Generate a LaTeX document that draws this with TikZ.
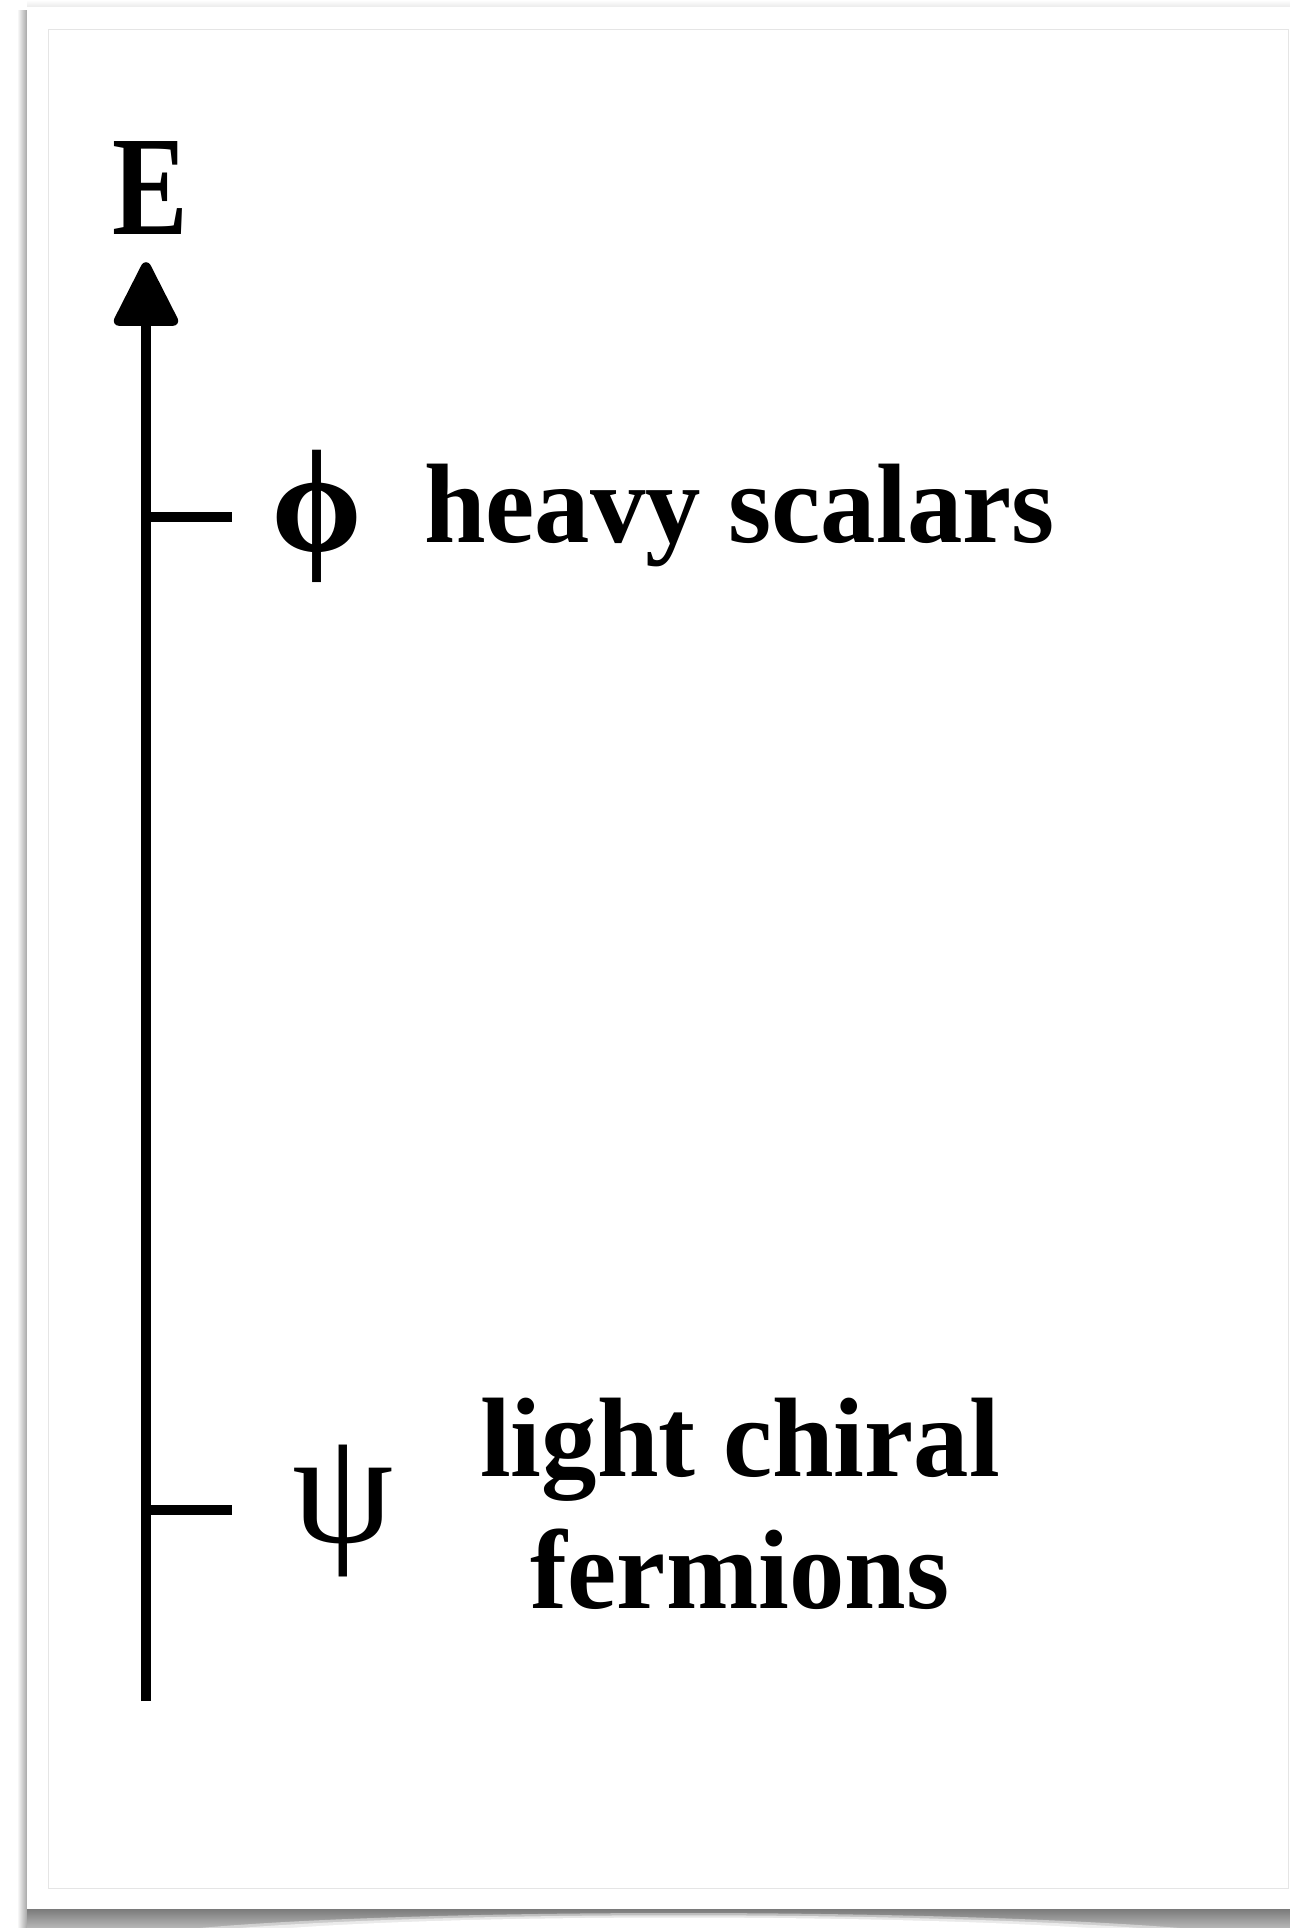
\documentclass[tikz,border=0pt]{standalone}
\usepackage{fontspec}
\setmainfont{Liberation Serif}
\newfontfamily\capfont{Liberation Serif}[FakeStretch=0.98]
\usetikzlibrary{arrows.meta}
\begin{document}
\begin{tikzpicture}[x=1pt,y=-1pt,
  axisline/.style={line width=10pt, line cap=butt},
  caption/.style={font=\capfont\bfseries\fontsize{113}{132}\selectfont, inner sep=0pt},
  symb/.style={font=\fontsize{162}{170}\selectfont, inner sep=0pt},
  symbbold/.style={font=\bfseries\fontsize{146}{150}\selectfont, inner sep=0pt},
  axislabel/.style={font=\bfseries\fontsize{142}{150}\selectfont, inner sep=0pt}]
\useasboundingbox (0,0) rectangle (1290,1928);

% sheet of paper with its shadows
\shade[left color=white, right color=black!35] (17,10) rectangle (27,1928);
\shade[top color=white, bottom color=black!8] (27,0) rectangle (1290,7);
\shade[top color=black!52, bottom color=black!28] (27,1909) rectangle (1290,1928);
% curled lower edge: the shadow thins out towards the middle
\fill[white, opacity=0.45] (200,1928) .. controls (420,1908) and (930,1908) .. (1180,1928) -- cycle;
\fill[white, opacity=0.6] (240,1928) .. controls (450,1911) and (900,1911) .. (1140,1928) -- cycle;
\fill[white] (290,1928) .. controls (480,1914) and (870,1914) .. (1090,1928) -- cycle;
\fill[white] (27,7) rectangle (1290,1909);
\draw[black!10, line width=1pt] (48,29) rectangle (1288,1888);

% energy axis
\node[axislabel, anchor=base] (E) at (150.5,234) {\scalebox{0.8}[1]{E}};
\coordinate (bot) at (146,1701);
\draw[axisline, -{Triangle[length=70pt, width=68pt, round]}, shorten >=28pt] (bot) -- (bot |- E.south);

% levels
\coordinate (t1) at (146,516.5);
\coordinate (t1e) at (232,516.5);
\coordinate (t2) at (146,1510);
\coordinate (t2e) at (232,1510);
\draw[axisline] (t1) -- (t1e);
\draw[axisline] (t2) -- (t2e);

\node[symbbold] (phi) at (317.5,516.5) {ϕ};
\node[caption, anchor=base west] (heavy) at (424,542) {heavy scalars};

\node[symb] (psi) at (343,1511) {ψ};
\node[caption, align=center, anchor=base] (light) at (740,1608) {light chiral\\fermions};
\end{tikzpicture}
\end{document}
